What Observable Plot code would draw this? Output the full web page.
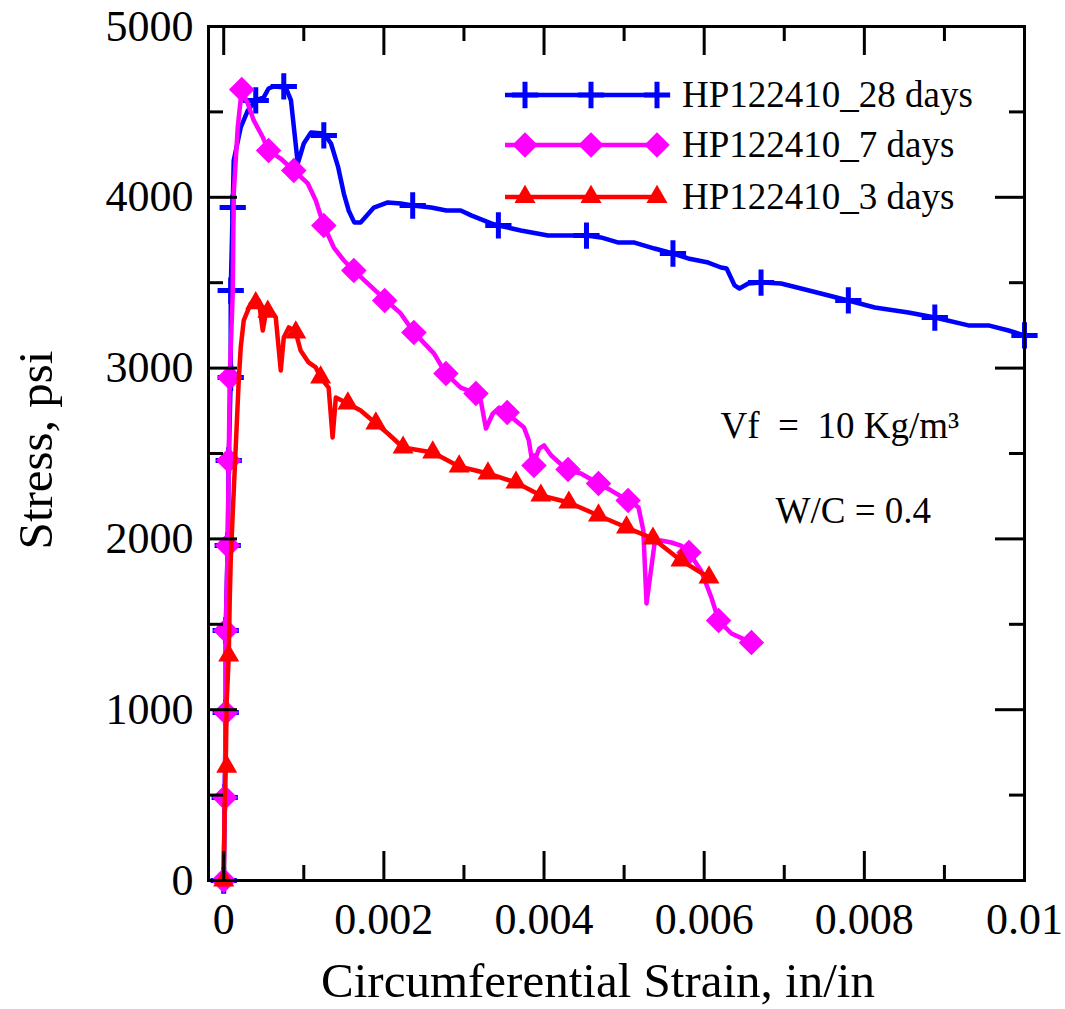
<!DOCTYPE html>
<html><head><meta charset="utf-8">
<script src="https://cdn.jsdelivr.net/npm/d3@7"></script>
<script src="https://cdn.jsdelivr.net/npm/@observablehq/plot@0.6"></script>
<style>
body{margin:0;background:#fff}
#chart{position:relative;width:1065px;height:1009px}
#chart svg{position:absolute;left:0;top:0}
</style>
</head><body><div id="chart"></div>
<script>
// ---------- data ----------
const seriesNames = ["HP122410_28 days", "HP122410_7 days", "HP122410_3 days"];
const seriesColors = ["#0000ff", "#ff00ff", "#ff0000"];
const seriesSymbols = ["plus", "diamond2", "triangle"];

// 28 days (blue) curve
const blueStrain = [0,0.0000125,0.000025,0.000025,0.00005,0.0000625,0.0000875,0.0000875,0.0001125,0.000125,0.0002125,0.0003,0.0004,0.0005,0.00056,0.000625,0.000775,0.00084,0.000925,0.001,0.00109,0.00125,0.00134,0.00143,0.0015,0.00156,0.00163,0.00171,0.001875,0.00205,0.00221,0.00236,0.00259,0.00278,0.00296,0.00309,0.00334,0.00343,0.00371,0.00405,0.0043,0.00453,0.00471,0.00493,0.00513,0.00538,0.00561,0.0058,0.00605,0.00621,0.00628,0.00638,0.00644,0.00655,0.00671,0.00696,0.00721,0.0078,0.00813,0.00855,0.00888,0.0093,0.00955,0.0098,0.01];
const blueStress = [0,486,984,1464,1961,2459,2945,3454,3940,4216,4409,4508,4567,4585,4637,4649,4643,4567,4198,4315,4380,4374,4315,4175,4022,3923,3853,3853,3940,3970,3964,3952,3940,3923,3923,3894,3847,3835,3806,3776,3776,3776,3765,3735,3735,3700,3671,3642,3618,3589,3583,3484,3466,3495,3501,3495,3466,3396,3355,3326,3296,3250,3250,3220,3191];
const blueMarkStrain = [0,0.0000125,0.000025,0.000025,0.00005,0.0000625,0.0000875,0.0000875,0.0001125,0.0004,0.00075,0.00125,0.00236,0.00343,0.00453,0.00561,0.00671,0.0078,0.00888,0.01];
const blueMarkStress = [0,486,984,1464,1961,2459,2945,3454,3940,4567,4649,4362,3952,3835,3776,3671,3501,3396,3296,3191];

// 7 days (magenta) curve
const magStrain = [0,0.0000125,0.000025,0.000025,0.00005,0.0000625,0.000075,0.0001125,0.000125,0.000175,0.000225,0.0003,0.000375,0.00049,0.00056,0.00071,0.000875,0.00105,0.00115,0.00125,0.001375,0.0015,0.001625,0.0018,0.002,0.00221,0.002375,0.002625,0.002775,0.00296,0.00315,0.00321,0.003275,0.00336,0.00344,0.00354,0.00375,0.00381,0.00386,0.00394,0.004,0.00409,0.0043,0.00446,0.00468,0.00484,0.00505,0.00518,0.00524,0.00528,0.00534,0.00538,0.00546,0.00559,0.00571,0.00581,0.00596,0.00609,0.00618,0.00634,0.00659];
const magStress = [0,486,984,1464,1961,2459,2945,3437,4022,4409,4631,4549,4450,4350,4274,4227,4157,4081,3981,3835,3706,3630,3572,3495,3408,3320,3209,3086,2968,2886,2851,2810,2646,2734,2769,2734,2652,2576,2430,2529,2547,2488,2400,2383,2324,2283,2225,2184,2049,1622,1833,1973,1991,1979,1961,1920,1815,1657,1522,1446,1393];
const magMarkStrain = [0,0.0000125,0.000025,0.000025,0.00005,0.0000625,0.000075,0.000225,0.00056,0.000875,0.00125,0.001625,0.00201,0.002375,0.002775,0.00315,0.00354,0.003875,0.0043,0.00468,0.00505,0.00581,0.00618,0.00659];
const magMarkStress = [0,486,984,1464,1961,2459,2945,4631,4274,4157,3835,3572,3396,3209,2968,2851,2740,2430,2406,2324,2225,1920,1522,1393];

// 3 days (red) curve
const redStrain = [0,0.0000125,0.000025,0.0000375,0.0000625,0.000075,0.0000875,0.0001125,0.00015,0.0001875,0.0002125,0.00025,0.0003375,0.0004375,0.0004875,0.000525,0.0005875,0.00065,0.0007125,0.00075,0.0008125,0.0009,0.00096,0.00106,0.00115,0.00121,0.00131,0.00136,0.0014,0.00155,0.00171,0.0019,0.00205,0.00224,0.00261,0.00294,0.0033,0.00365,0.00396,0.00431,0.00468,0.00503,0.00536,0.00571,0.00606];
const redStress = [0,468,667,1054,1306,1639,1874,2149,2535,2928,3121,3279,3378,3396,3220,3320,3337,3296,2986,3179,3238,3209,3103,3033,3004,2945,2886,2594,2828,2793,2752,2676,2617,2535,2506,2424,2383,2330,2254,2213,2137,2067,2002,1874,1774];
const redMarkStrain = [0,0.0000375,0.0000625,0.0004,0.00055,0.0009,0.00121,0.00155,0.0019,0.00224,0.00261,0.00294,0.0033,0.00365,0.00396,0.00431,0.00468,0.00503,0.00536,0.00571,0.00606];
const redMarkStress = [0,667,1317,3380,3330,3209,2945,2793,2676,2535,2506,2424,2383,2330,2254,2213,2137,2067,2002,1874,1774];

// ticks
const xMajorTicks = [0, 0.002, 0.004, 0.006, 0.008, 0.01];
const xMinorTicks = [0.001, 0.003, 0.005, 0.007, 0.009];
const yMajorTicks = [0, 1000, 2000, 3000, 4000, 5000];
const yMinorTicks = [500, 1500, 2500, 3500, 4500];

const xTitle = "Circumferential Strain, in/in";
const yTitle = "Stress, psi";
const notes = ["Vf\u00a0\u00a0=\u00a0\u00a010 Kg/m\u00b3", "W/C = 0.4"];

// ---------- build ----------
const pts = (xs, ys) => xs.map((x, i) => ({x, y: ys[i]}));
const lines = [pts(blueStrain, blueStress), pts(magStrain, magStress), pts(redStrain, redStress)];
const marks = [pts(blueMarkStrain, blueMarkStress), pts(magMarkStrain, magMarkStress), pts(redMarkStrain, redMarkStress)];

const W = 1065, H = 1009;
const mL = 208, mR = 41, mT = 26, mB = 129;
const fW = W - mL - mR, fH = H - mT - mB;
const majorLen = 29, minorLen = 15;
const font = "'Liberation Serif','Times New Roman',serif";
const lineW = 4.5;

function symbolOpts(i) {
  if (seriesSymbols[i] === "plus") return {symbol: "plus", r: 8.5, stroke: seriesColors[i], strokeWidth: 5, fill: "none"};
  if (seriesSymbols[i] === "diamond2") return {symbol: "diamond2", r: 11.5, fill: seriesColors[i], stroke: "none"};
  return {symbol: "triangle", r: 7.8, fill: seriesColors[i], stroke: "none"};
}

const seriesMarks = [];
for (let i = 0; i < 3; i++) {
  seriesMarks.push(Plot.line(lines[i], {x: "x", y: "y", stroke: seriesColors[i], strokeWidth: lineW, strokeLinejoin: "round", strokeLinecap: "round"}));
  seriesMarks.push(Plot.dot(marks[i], {x: "x", y: "y", ...symbolOpts(i)}));
}

const tickStyle = {stroke: "black", strokeWidth: 3};
const chart = Plot.plot({
  width: W, height: H,
  marginLeft: mL, marginRight: mR, marginTop: mT, marginBottom: mB,
  x: {domain: [-0.00019, 0.01]},
  y: {domain: [0, 5000]},
  style: {fontFamily: font, color: "black", background: "white", overflow: "visible"},
  marks: [
    ...seriesMarks,
    // inward ticks on all four sides
    Plot.tickX(xMajorTicks, {x: d => d, insetTop: fH - majorLen, ...tickStyle}),
    Plot.tickX(xMinorTicks, {x: d => d, insetTop: fH - minorLen, ...tickStyle}),
    Plot.tickX(xMajorTicks, {x: d => d, insetBottom: fH - majorLen, ...tickStyle}),
    Plot.tickX(xMinorTicks, {x: d => d, insetBottom: fH - minorLen, ...tickStyle}),
    Plot.tickY(yMajorTicks, {y: d => d, insetRight: fW - majorLen, ...tickStyle}),
    Plot.tickY(yMinorTicks, {y: d => d, insetRight: fW - minorLen, ...tickStyle}),
    Plot.tickY(yMajorTicks, {y: d => d, insetLeft: fW - majorLen, ...tickStyle}),
    Plot.tickY(yMinorTicks, {y: d => d, insetLeft: fW - minorLen, ...tickStyle}),
    Plot.frame({stroke: "black", strokeWidth: 3}),
    Plot.axisX(xMajorTicks, {tickSize: 0, tickPadding: 22, tickFormat: d => String(d), fontSize: 44, label: null}),
    Plot.axisY(yMajorTicks, {tickSize: 0, tickPadding: 15, tickFormat: d => String(d), fontSize: 44, label: null}),
    Plot.text([notes[0]], {text: d => d, frameAnchor: "top-left", dx: 512, dy: 385, textAnchor: "start", fontSize: 37}),
    Plot.text([notes[1]], {text: d => d, frameAnchor: "top-left", dx: 567, dy: 470, textAnchor: "start", fontSize: 37})
  ]
});
document.getElementById("chart").appendChild(chart);

// ---------- overlay: axis titles and legend ----------
const lg = d3.select("#chart").append("svg")
  .attr("width", W).attr("height", H)
  .style("pointer-events", "none")
  .style("font-family", font);

lg.append("text").attr("x", 598).attr("y", 997).attr("text-anchor", "middle")
  .attr("font-size", 49).attr("fill", "black").text(xTitle);
lg.append("text").attr("transform", "translate(52,450) rotate(-90)").attr("text-anchor", "middle")
  .attr("font-size", 49).attr("fill", "black").text(yTitle);

const legendRowsY = [95, 145, 197];
const legendLineX = [505, 657];
const legendMarkX = [525, 591, 657];
const legendTextX = 682;
const symFn = {plus: d3.symbolPlus, diamond2: d3.symbolDiamond2, triangle: d3.symbolTriangle};
seriesNames.forEach((name, i) => {
  const y = legendRowsY[i];
  const g = lg.append("g");
  g.append("line").attr("x1", legendLineX[0]).attr("x2", legendLineX[1]).attr("y1", y).attr("y2", y)
    .attr("stroke", seriesColors[i]).attr("stroke-width", lineW);
  const o = symbolOpts(i);
  const path = d3.symbol(symFn[o.symbol], Math.PI * o.r * o.r)();
  legendMarkX.forEach(x => {
    g.append("path").attr("d", path).attr("transform", `translate(${x},${y})`)
      .attr("fill", o.fill).attr("stroke", o.stroke).attr("stroke-width", o.strokeWidth || 0);
  });
  g.append("text").attr("x", legendTextX).attr("y", y).attr("dy", "0.32em")
    .attr("font-size", 37).attr("fill", "black").text(name);
});
</script>
</body></html>
